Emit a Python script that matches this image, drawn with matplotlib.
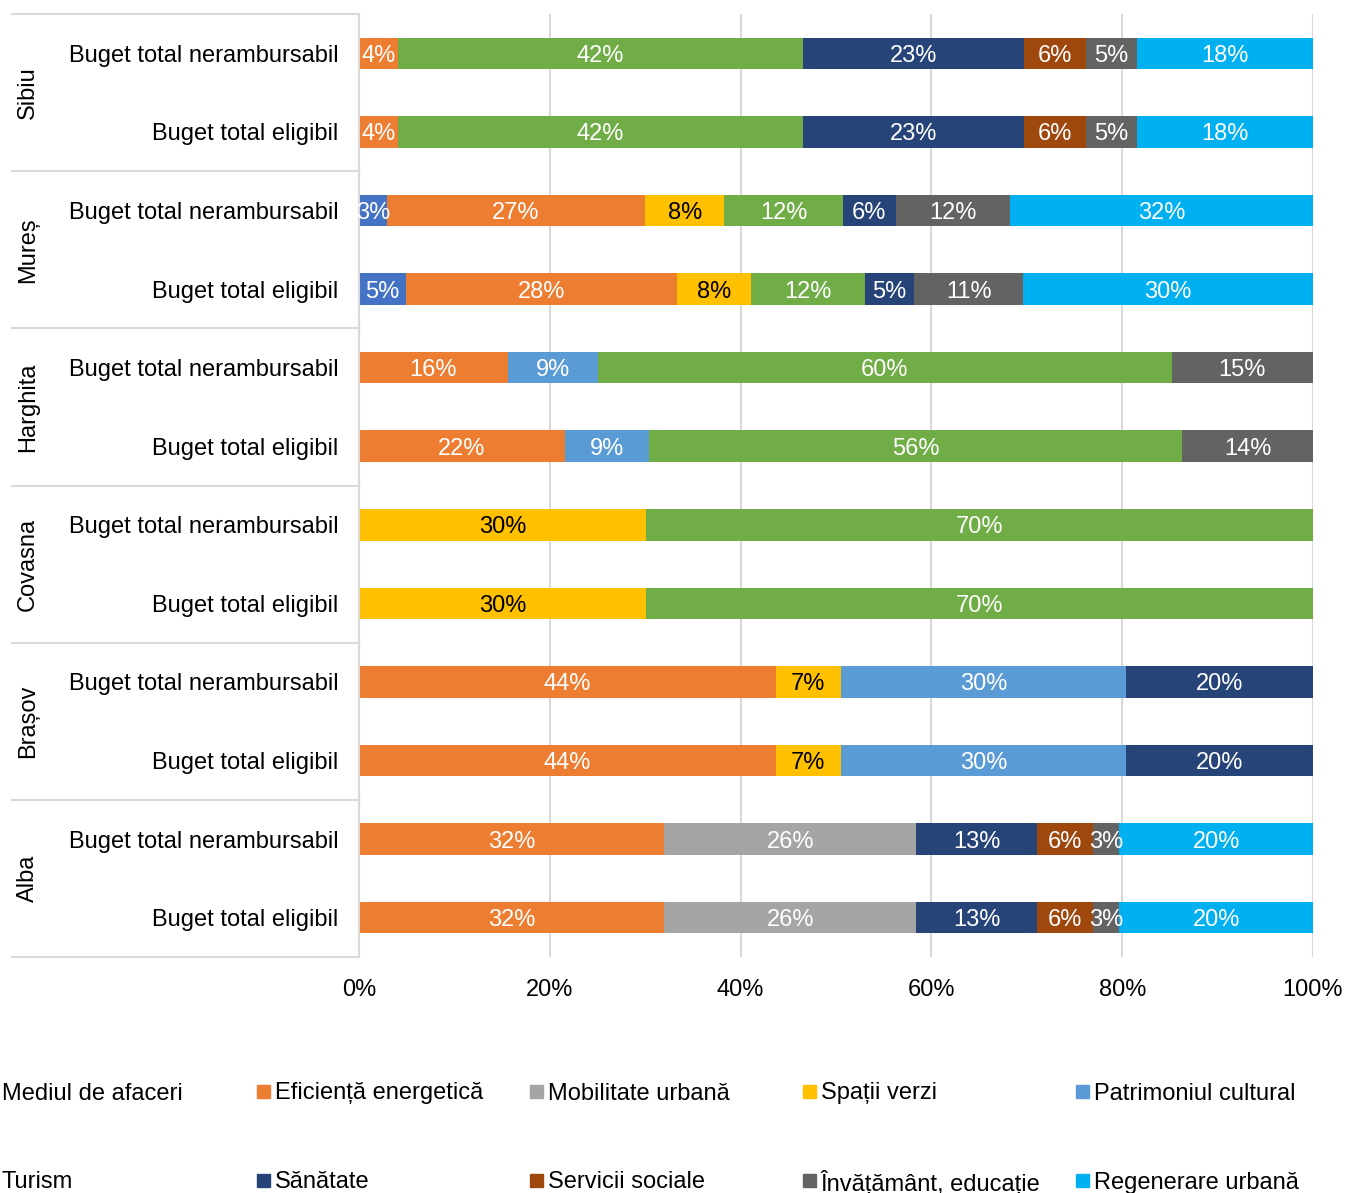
import matplotlib
matplotlib.use("Agg")
import matplotlib.pyplot as plt
from matplotlib.patches import Rectangle
import numpy as np

plt.rcParams["font.family"] = ["Liberation Sans", "DejaVu Sans"]
FS = 17

counties = ["Sibiu", "Mureș", "Harghita", "Covasna", "Brașov", "Alba"]
budgets = ["Buget total nerambursabil", "Buget total eligibil"]

categories = ["Mediul de afaceri", "Eficiență energetică", "Mobilitate urbană",
              "Spații verzi", "Patrimoniul cultural", "Turism", "Sănătate",
              "Servicii sociale", "Învățământ, educație", "Regenerare urbană"]
colors = ["#4472C4", "#ED7D31", "#A5A5A5", "#FFC000", "#5B9BD5",
          "#70AD47", "#264478", "#9E480E", "#636363", "#00B0F0"]

# rows top to bottom: Sibiu N, Sibiu E, Mureș N, Mureș E, ... Alba N, Alba E
mediul = [0, 0, 2.9, 4.9, 0, 0, 0, 0, 0, 0, 0, 0]
eficienta = [4.1, 4.1, 27.1, 28.4, 15.6, 21.6, 0, 0, 43.7, 43.7, 32.0, 32.0]
mobilitate = [0, 0, 0, 0, 0, 0, 0, 0, 0, 0, 26.4, 26.4]
spatii = [0, 0, 8.3, 7.8, 0, 0, 30.1, 30.1, 6.8, 6.8, 0, 0]
patrimoniu = [0, 0, 0, 0, 9.4, 8.8, 0, 0, 29.9, 29.9, 0, 0]
turism = [42.4, 42.4, 12.4, 11.9, 60.2, 55.9, 69.9, 69.9, 0, 0, 0, 0]
sanatate = [23.2, 23.2, 5.6, 5.2, 0, 0, 0, 0, 19.6, 19.6, 12.7, 12.7]
servicii = [6.5, 6.5, 0, 0, 0, 0, 0, 0, 0, 0, 5.8, 5.8]
invatamant = [5.3, 5.3, 11.9, 11.4, 14.8, 13.7, 0, 0, 0, 0, 2.8, 2.8]
regenerare = [18.5, 18.5, 31.8, 30.4, 0, 0, 0, 0, 0, 0, 20.3, 20.3]

series = [mediul, eficienta, mobilitate, spatii, patrimoniu, turism,
          sanatate, servicii, invatamant, regenerare]

W, H = 1347, 1193
fig = plt.figure(figsize=(W / 100, H / 100), dpi=100)
ax = fig.add_axes([359 / W, 1 - 957 / H, 954 / W, 943 / H])

n = len(counties) * len(budgets)
y = np.arange(n)
left = np.zeros(n)
for name, vals, col in zip(categories, series, colors):
    vals = np.array(vals, dtype=float)
    ax.barh(y, vals, left=left, height=0.4, color=col, label=name, zorder=2)
    tcol = "black" if col == "#FFC000" else "white"
    for yi, (l, v) in enumerate(zip(left, vals)):
        if v > 0:
            ax.text(l + v / 2, yi, f"{round(v)}%", ha="center",
                    va="center_baseline", color=tcol, fontsize=FS, zorder=3)
    left += vals

ax.set_xlim(0, 100)
ax.set_ylim(n - 0.5, -0.5)
ax.set_xticks(np.arange(0, 101, 20))
ax.set_xticklabels([f"{t}%" for t in range(0, 101, 20)], fontsize=FS)
ax.set_yticks(y)
ax.set_yticklabels(budgets * len(counties), fontsize=FS)
ax.tick_params(axis="y", length=0, pad=15)
ax.tick_params(axis="x", length=0, pad=16)
ax.grid(axis="x", color="#D9D9D9", linewidth=1.5, zorder=0)
for s in ["top", "right", "bottom"]:
    ax.spines[s].set_visible(False)
ax.spines["left"].set_color("#D9D9D9")
ax.spines["left"].set_linewidth(1.5)

# group separators and county labels
trans = ax.get_yaxis_transform()
x0 = (12 - 359) / 954
for i in range(len(counties) + 1):
    yy = i * 2 - 0.5
    ax.plot([x0, 0], [yy, yy], color="#D9D9D9", linewidth=1.5,
            transform=trans, clip_on=False)
for i, c in enumerate(counties):
    ax.text((28 - 359) / 954, i * 2 + 0.5, c, rotation=90, ha="center",
            va="center", fontsize=FS, transform=trans)

# legend laid out as in the original (first column markers fall off the page)
for k, (name, col) in enumerate(zip(categories, colors)):
    row, colidx = divmod(k, 5)
    tx = 2 + 273 * colidx
    ty = [1091, 1180][row]
    fig.add_artist(Rectangle(((tx - 18) / W, 1 - (ty + 6.5) / H), 13 / W, 13 / H,
                             color=col, transform=fig.transFigure))
    fig.text(tx / W, 1 - ty / H, name, ha="left", va="center_baseline", fontsize=FS)

fig.savefig("out.png", dpi=100)
